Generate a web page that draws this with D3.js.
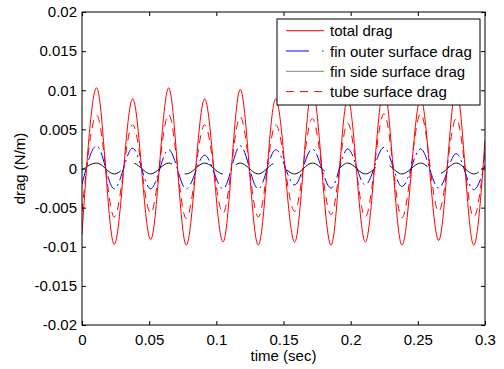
<!DOCTYPE html>
<html>
<head>
<meta charset="utf-8">
<script src="https://cdn.jsdelivr.net/npm/d3@7"></script>
<style>
  html, body { margin: 0; padding: 0; background: #fff; }
  svg { display: block; font-family: "Liberation Sans", Arial, Helvetica, sans-serif; }
</style>
</head>
<body>
<svg id="chart" width="504" height="369"></svg>
<script>
// ---- data ----
const time = [0, 0.0109, 0.0240, 0.0377, 0.0511, 0.0645, 0.0776, 0.0913, 0.1050, 0.1178, 0.1312,
  0.1442, 0.1583, 0.1714, 0.1854, 0.1978, 0.2109, 0.2248, 0.2382, 0.2521, 0.2655, 0.2786, 0.2916, 0.3];

const totalDrag = [-0.0084, 0.0103, -0.0097, 0.0089, -0.0091, 0.0103, -0.0098, 0.0089, -0.0094, 0.0101,
  -0.0098, 0.0089, -0.0094, 0.0102, -0.0098, 0.0090, -0.0094, 0.0102, -0.0098, 0.0090, -0.0092, 0.0102, -0.0098, 0.0036];

const finOuterDrag = [-0.0020, 0.0029, -0.0026, 0.0026, -0.0026, 0.0024, -0.0026, 0.0017, -0.0026, 0.0029,
  -0.0026, 0.0024, -0.0021, 0.0025, -0.0025, 0.0025, -0.0021, 0.0027, -0.0023, 0.0025, -0.0025, 0.0019, -0.0027, 0.0004];

const finSideDrag = [-0.0002, 0.0007, -0.0007, 0.0007, -0.0007, 0.0007, -0.0007, 0.0007, -0.0007, 0.0007,
  -0.0007, 0.0007, -0.0007, 0.0007, -0.0007, 0.0007, -0.0007, 0.0007, -0.0007, 0.0007, -0.0007, 0.0007, -0.0007, 0.0002];

const tubeDrag = [-0.0055, 0.0068, -0.0062, 0.0056, -0.0057, 0.0069, -0.0064, 0.0056, -0.0057, 0.0066,
  -0.0062, 0.0056, -0.0055, 0.0064, -0.0059, 0.0058, -0.0062, 0.0070, -0.0063, 0.0070, -0.0055, 0.0064, -0.0062, 0.0022];

const seriesNames = ["total drag", "fin outer surface drag", "fin side surface drag", "tube surface drag"];
const xTicks = [0, 0.05, 0.1, 0.15, 0.2, 0.25, 0.3];
const xTickLabels = ["0", "0.05", "0.1", "0.15", "0.2", "0.25", "0.3"];
const yTicks = [-0.02, -0.015, -0.01, -0.005, 0, 0.005, 0.01, 0.015, 0.02];
const yTickLabels = ["-0.02", "-0.015", "-0.01", "-0.005", "0", "0.005", "0.01", "0.015", "0.02"];
const xLabel = "time (sec)";
const yLabel = "drag (N/m)";

// ---- layout ----
const svg = d3.select("#chart");
const L = 82, R = 485, T = 12, B = 325;
const x = d3.scaleLinear().domain([0, 0.3]).range([L, R]);
const y = d3.scaleLinear().domain([-0.02, 0.02]).range([B, T]);

svg.append("rect").attr("width", 504).attr("height", 369).attr("fill", "#fff");

svg.append("defs").append("clipPath").attr("id", "clip")
  .append("rect").attr("x", L).attr("y", T).attr("width", R - L).attr("height", B - T);

const styles = [
  { data: totalDrag,    color: "#ff0000", dash: null,        legendDash: null,          legendColor: "#ff0000", width: 1 },
  { data: finOuterDrag, color: "#0000ff", dash: "15,4,2,4",  legendDash: "23,13,1.5,10", legendColor: "#0000ff", width: 1 },
  { data: finSideDrag,  color: "#111111", dash: "45,16",     legendDash: null,          legendColor: "#808080", width: 1 },
  { data: tubeDrag,     color: "#ff0000", dash: "8,6",       legendDash: "8,6",         legendColor: "#ff0000", width: 1 }
];

const line = d3.line().curve(d3.curveMonotoneX)
  .x((d, i) => x(time[i])).y(d => y(d));

const plot = svg.append("g").attr("clip-path", "url(#clip)");
// draw order: total, fin outer, fin side, tube
styles.forEach(s => {
  plot.append("path")
    .attr("d", line(s.data))
    .attr("fill", "none")
    .attr("stroke", s.color)
    .attr("stroke-width", s.width)
    .attr("stroke-dasharray", s.dash);
});

// ---- axes ----
const fontSize = 15;
const xAxis = d3.axisBottom(x).tickValues(xTicks).tickFormat((d, i) => xTickLabels[i])
  .tickSizeInner(-4).tickSizeOuter(0).tickPadding(9);
const yAxis = d3.axisLeft(y).tickValues(yTicks).tickFormat((d, i) => yTickLabels[i])
  .tickSizeInner(-4).tickSizeOuter(0).tickPadding(5);
const xTop = d3.axisTop(x).tickValues(xTicks).tickFormat("").tickSizeInner(-4).tickSizeOuter(0);
const yRight = d3.axisRight(y).tickValues(yTicks).tickFormat("").tickSizeInner(-4).tickSizeOuter(0);

function styleAxis(g) {
  g.select(".domain").remove();
  g.selectAll("line").attr("stroke", "#000");
  g.selectAll("text").attr("fill", "#000").style("font-size", fontSize + "px")
    .style("font-family", '"Liberation Sans", Arial, Helvetica, sans-serif');
}
svg.append("g").attr("transform", `translate(0,${B})`).call(xAxis).call(styleAxis);
svg.append("g").attr("transform", `translate(${L},0)`).call(yAxis).call(styleAxis);
svg.append("g").attr("transform", `translate(0,${T})`).call(xTop).call(styleAxis);
svg.append("g").attr("transform", `translate(${R},0)`).call(yRight).call(styleAxis);

svg.append("rect").attr("x", L).attr("y", T).attr("width", R - L).attr("height", B - T)
  .attr("fill", "none").attr("stroke", "#000").attr("stroke-width", 1);

// axis labels
svg.append("text").attr("x", (L + R) / 2).attr("y", 361)
  .attr("text-anchor", "middle").style("font-size", fontSize + "px").attr("fill", "#000").text(xLabel);
svg.append("text").attr("transform", `translate(25,${(T + B) / 2}) rotate(-90)`)
  .attr("text-anchor", "middle").style("font-size", fontSize + "px").attr("fill", "#000").text(yLabel);

// ---- legend ----
const lg = svg.append("g");
const lgX = 277, lgY = 19, lgW = 203, lgH = 86;
lg.append("rect").attr("x", lgX).attr("y", lgY).attr("width", lgW).attr("height", lgH)
  .attr("fill", "#fff").attr("stroke", "#000").attr("stroke-width", 1);
seriesNames.forEach((name, i) => {
  const cy = 30.7 + i * 20.3;
  const s = styles[i];
  lg.append("line").attr("x1", 286).attr("x2", 324).attr("y1", cy).attr("y2", cy)
    .attr("stroke", s.legendColor).attr("stroke-width", 1).attr("stroke-dasharray", s.legendDash);
  lg.append("text").attr("x", 330).attr("y", cy + 5.5)
    .style("font-size", fontSize + "px").attr("fill", "#000").text(name);
});
</script>
</body>
</html>
